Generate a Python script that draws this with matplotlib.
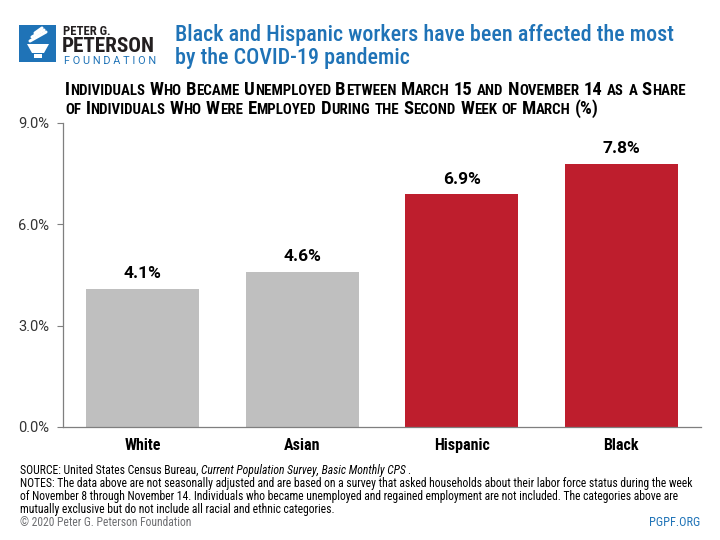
import matplotlib
matplotlib.use("Agg")
import matplotlib.pyplot as plt
from matplotlib.patches import Rectangle, Polygon

groups = ["White", "Asian", "Hispanic", "Black"]
shares = [4.1, 4.6, 6.9, 7.8]
bar_colors = ["#BFBFBF", "#BFBFBF", "#BE1E2D", "#BE1E2D"]
yticks = [0.0, 3.0, 6.0, 9.0]

title = ["Black and Hispanic workers have been affected the most", "by the COVID-19 pandemic"]
subtitle = ["Individuals Who Became Unemployed Between March 15 and November 14 as a Share",
            "of Individuals Who Were Employed During the Second Week of March (%)"]
source_parts = ["SOURCE: United States Census Bureau,", "Current Population Survey, Basic Monthly CPS", "."]
notes = [
    "NOTES: The data above are not seasonally adjusted and are based on a survey that asked households about their labor force status during the week",
    "of November 8 through November 14. Individuals who became unemployed and regained employment are not included. The categories above are",
    "mutually exclusive but do not include all racial and ethnic categories.",
]

COND = ["Roboto Condensed", "DejaVu Sans"]
SANS = ["Roboto", "DejaVu Sans"]
BLUE = "#1F73B7"
DARK = "#231F20"

fig = plt.figure(figsize=(7.2, 5.4), dpi=100)
W, H = 720, 540
renderer = fig.canvas.get_renderer()


def px(x, y):
    return x / W, 1 - y / H


def fit_text(x0, x1, y, s, size, **kw):
    # draw a text and shrink/grow it so it spans x0..x1 pixels
    t = fig.text(*px(x0, y), s, fontsize=size, va="baseline", **kw)
    w = t.get_window_extent(renderer).width
    t.set_fontsize(size * (x1 - x0) / w)
    return t


# ---- logo ----
fig.patches.append(Rectangle(px(19, 62), 37 / W, 37 / H, transform=fig.transFigure,
                             facecolor=BLUE, edgecolor="none"))
cup = [px(27, 44), px(49, 44), px(44, 53), px(32, 53)]
fig.patches.append(Polygon(cup, closed=True, transform=fig.transFigure, facecolor="white", edgecolor="none"))
fig.patches.append(Rectangle(px(34, 58), 8 / W, 4 / H, transform=fig.transFigure,
                             facecolor="white", edgecolor="none"))
for (x0, y0, x1, y1) in [(30, 41, 46, 32), (32, 37, 44, 30), (35, 33, 42, 28)]:
    fig.lines.append(plt.Line2D([x0 / W, x1 / W], [1 - y0 / H, 1 - y1 / H], transform=fig.transFigure,
                                color="white", lw=2.2, solid_capstyle="round"))
fit_text(63, 110, 35, "PETER G.", 11, fontweight="bold", family=COND, color=DARK)
fit_text(62, 155, 52, "PETERSON", 16, fontweight="bold", family=COND, color=DARK)
fit_text(64, 155, 64, "F O U N D A T I O N", 7, family=SANS, color=BLUE)

# ---- title ----
t1 = fit_text(175, 671, 41, title[0], 15.5, family=COND, color=BLUE, fontweight="medium")
fig.text(*px(175, 64), title[1], fontsize=t1.get_fontsize(), family=COND, color=BLUE,
         fontweight="medium", va="baseline")


# ---- small caps subtitle ----
def small_caps(x_px, y_px, line, big, small):
    x = x_px / W
    for wi, word in enumerate(line.split(" ")):
        if wi > 0:
            x += big * 0.33 / W
        runs = []
        for ch in word:
            low = ch.islower()
            if runs and runs[-1][0] == low:
                runs[-1][1] += ch
            else:
                runs.append([low, ch])
        for low, txt in runs:
            t = fig.text(x, 1 - y_px / H, txt.upper(), fontsize=small if low else big, fontweight="bold",
                         family=COND, color="black", va="baseline")
            x += t.get_window_extent(renderer).width / W
    return x * W


small_caps(65, 95, subtitle[0], 13.4, 10.7)
small_caps(65, 114, subtitle[1], 13.4, 10.7)

# ---- chart ----
ax = fig.add_axes([63 / W, 1 - 427 / H, 638 / W, 304 / H])
x_pos = list(range(len(groups)))
bars = ax.bar(x_pos, shares, width=0.71, color=bar_colors)
for b, v in zip(bars, shares):
    ax.text(b.get_x() + b.get_width() / 2, v + 0.22, f"{v:.1f}%", ha="center", va="bottom",
            fontsize=12.5, fontweight="bold", family=SANS, color="black")
ax.set_xlim(-0.5, 3.5)
ax.set_ylim(0, 9)
ax.set_yticks(yticks)
ax.set_yticklabels([f"{v:.1f}%" for v in yticks], fontsize=10.5, family=SANS, color="#333333")
ax.set_xticks(x_pos)
ax.set_xticklabels(groups, fontsize=11.5, fontweight="bold", family=COND)
ax.tick_params(axis="y", length=4, width=0.8, color="#7F7F7F", pad=6)
ax.tick_params(axis="x", length=0, pad=8)
for s in ["top", "right"]:
    ax.spines[s].set_visible(False)
for s in ["left", "bottom"]:
    ax.spines[s].set_color("#7F7F7F")
    ax.spines[s].set_linewidth(0.9)

# ---- footer ----
nt = fit_text(20, 700, 487, notes[0], 8, family=COND, color="black")
fsize = nt.get_fontsize()
for k, line in enumerate(notes[1:]):
    fig.text(*px(20, 487 + 13 * (k + 1)), line, fontsize=fsize, family=COND, color="black", va="baseline")
xx = 20 / W
gaps = [3.0, 0.5, 0]
for i, part in enumerate(source_parts):
    t = fig.text(xx, 1 - 474 / H, part, fontsize=fsize, family=COND, color="black", va="baseline",
                 style="italic" if i == 1 else "normal")
    xx += (t.get_window_extent(renderer).width + gaps[i]) / W
fig.text(*px(20, 526), "\u00a9 2020 Peter G. Peterson Foundation", fontsize=fsize, family=COND,
         color="#6D6E71", va="baseline")
fig.text(*px(700, 526), "PGPF.ORG", fontsize=fsize + 0.4, family=COND, color=BLUE, va="baseline", ha="right")

fig.savefig("out.png", dpi=100)
